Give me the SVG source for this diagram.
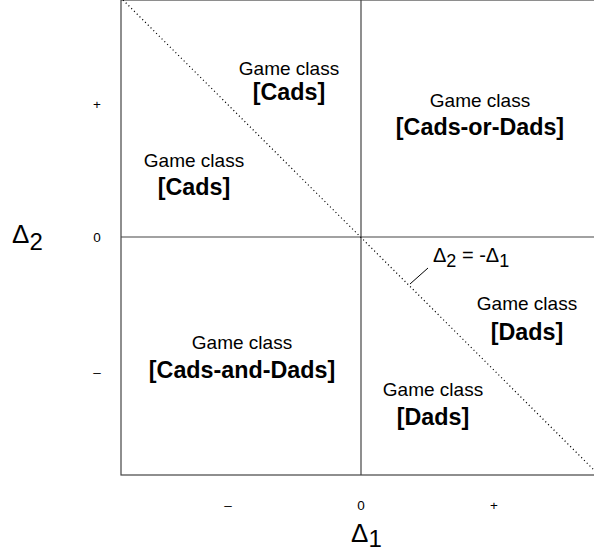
<svg xmlns="http://www.w3.org/2000/svg" width="594" height="554" viewBox="0 0 594 554">
<style>
.n{font-family:"Liberation Sans",Arial,sans-serif;font-size:19px;fill:#000;text-anchor:middle}
.b{font-family:"Liberation Sans",Arial,sans-serif;font-size:23.3px;font-weight:bold;fill:#000;text-anchor:middle}
.t{font-family:"Liberation Sans",Arial,sans-serif;font-size:13.5px;fill:#000;text-anchor:middle}
.g{font-family:"Liberation Sans",Arial,sans-serif;fill:#000}
.ax{stroke:#444;stroke-width:1.2;fill:none}
</style>
<rect width="594" height="554" fill="#fff"/>
<g id="frame">
<rect class="ax" x="121" y="0" width="480" height="475"/>
</g>
<g id="connectors">
<line class="ax" x1="361" y1="0" x2="361" y2="475"/>
<line class="ax" x1="121" y1="237" x2="601" y2="237"/>
<line x1="123" y1="0" x2="599" y2="475" stroke="#000" stroke-width="1.2" stroke-dasharray="1.1,2.8"/>
<line x1="428" y1="268" x2="410" y2="284" stroke="#000" stroke-width="1"/>
</g>
<g id="ticks">
<text class="t" x="97" y="109">+</text>
<text class="t" x="97" y="242">0</text>
<text class="t" x="97" y="377">–</text>
<text class="t" x="228" y="510">–</text>
<text class="t" x="361" y="510">0</text>
<text class="t" x="494" y="510">+</text>
</g>
<g id="axis-labels">
<text class="g" x="12" y="243" font-size="26">Δ<tspan font-size="24" dy="7">2</tspan></text>
<text class="g" x="351" y="542" font-size="26">Δ<tspan font-size="24" dy="5">1</tspan></text>
<text class="g" x="433" y="262" font-size="20">Δ<tspan font-size="18" dy="5">2</tspan><tspan dy="-5"> = -Δ</tspan><tspan font-size="18" dy="5">1</tspan></text>
</g>
<g id="cads-top">
<text class="n" x="289" y="75">Game class</text>
<text class="b" x="289" y="100">[Cads]</text>
</g>
<g id="cads-left">
<text class="n" x="194" y="167">Game class</text>
<text class="b" x="194" y="195">[Cads]</text>
</g>
<g id="cads-or-dads">
<text class="n" x="480" y="107">Game class</text>
<text class="b" x="480" y="135">[Cads-or-Dads]</text>
</g>
<g id="dads-right">
<text class="n" x="527" y="310">Game class</text>
<text class="b" x="527" y="340">[Dads]</text>
</g>
<g id="cads-and-dads">
<text class="n" x="242" y="349">Game class</text>
<text class="b" x="242" y="378">[Cads-and-Dads]</text>
</g>
<g id="dads-bottom">
<text class="n" x="433" y="396">Game class</text>
<text class="b" x="433" y="425">[Dads]</text>
</g>
</svg>
